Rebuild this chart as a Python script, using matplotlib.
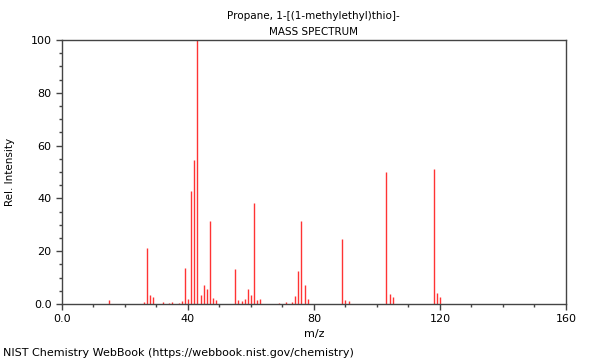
import matplotlib
matplotlib.use("Agg")
import matplotlib.pyplot as plt
from matplotlib.ticker import MultipleLocator, FixedLocator

# m/z values and relative intensities
mz = [15, 26, 27, 28, 29, 32, 34, 35, 37, 38, 39, 40, 41, 42, 43, 44, 45, 46,
      47, 48, 49, 55, 56, 57, 58, 59, 60, 61, 62, 63, 69, 71, 73, 74, 75, 76,
      77, 78, 89, 90, 91, 103, 104, 105, 118, 119, 120]
intensity = [1.5, 0.9, 21.3, 3.4, 2.7, 0.9, 0.3, 0.6, 0.4, 1.0, 13.6, 1.9,
             42.8, 54.4, 100.0, 3.5, 7.2, 5.8, 31.5, 2.3, 1.6, 13.4, 1.4, 1.0,
             2.0, 5.6, 3.4, 38.1, 1.4, 1.7, 0.3, 0.6, 0.9, 3.2, 12.6, 31.3,
             7.3, 1.7, 24.5, 1.4, 1.2, 50.0, 3.6, 2.7, 51.1, 4.2, 2.8]

xticks = [0, 40, 80, 120, 160]
xticklabels = ["0.0", "40", "80", "120", "160"]
yticks = [0, 20, 40, 60, 80, 100]
yticklabels = ["0.0", "20", "40", "60", "80", "100"]

plt.rcParams['font.family'] = ['DejaVu Sans']

fig = plt.figure(figsize=(6, 3.6), dpi=100)
ax = fig.add_axes([0.1033, 0.1556, 0.84, 0.7333])

ax.vlines(mz, 0, intensity, colors='#ff3333', linewidth=1.0)

ax.set_xlim(0, 160)
ax.set_ylim(0, 100)
ax.xaxis.set_major_locator(FixedLocator(xticks))
ax.set_xticklabels(xticklabels)
ax.xaxis.set_minor_locator(MultipleLocator(10))
ax.yaxis.set_major_locator(FixedLocator(yticks))
ax.set_yticklabels(yticklabels)
ax.yaxis.set_minor_locator(MultipleLocator(5))

for s in ax.spines.values():
    s.set_color('#444444')
    s.set_linewidth(1.0)
ax.tick_params(which='major', length=4, width=1, color='#444444', labelsize=8)
ax.tick_params(which='minor', length=2.5, width=1, color='#444444')

ax.set_xlabel('m/z', fontsize=8, labelpad=3)
ax.set_ylabel('Rel. Intensity', fontsize=7.5, labelpad=11)

fig.text(0.523, 0.956, 'Propane, 1-[(1-methylethyl)thio]-', ha='center', va='center', fontsize=7.5)
fig.text(0.523, 0.912, 'MASS SPECTRUM', ha='center', va='center', fontsize=7.5)
fig.text(0.005, 0.019, 'NIST Chemistry WebBook (https://webbook.nist.gov/chemistry)',
         ha='left', va='center', fontsize=8)

fig.savefig('out.png', dpi=100)
